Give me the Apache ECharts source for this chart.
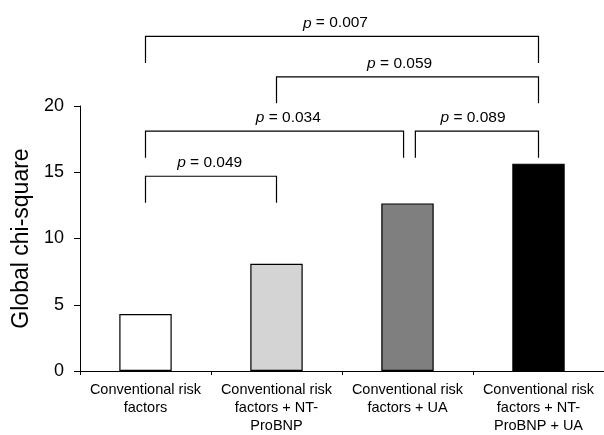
<!DOCTYPE html>
<html>
<head>
<meta charset="utf-8">
<script src="https://cdn.jsdelivr.net/npm/echarts@6/dist/echarts.min.js"></script>
<style>
  html, body { margin: 0; padding: 0; background: #fff; }
  #chart { width: 604px; height: 435px; }
</style>
</head>
<body>
<div id="chart"></div>
<script>
// categories and values
const categories = [
  'Conventional risk\nfactors',
  'Conventional risk\nfactors + NT-\nProBNP',
  'Conventional risk\nfactors + UA',
  'Conventional risk\nfactors + NT-\nProBNP + UA'
]
const chiSquare = [4.3, 8.1, 12.65, 15.65]
const barColors = ['#ffffff', '#d4d4d4', '#7f7f7f', '#000000']

// comparison brackets (category positions, y levels in chi-square units)
const bracketFrom = [0, 1, 0, 2.06, 0]
const bracketTo = [3, 3, 1.97, 3, 1]
const bracketTop = [25.25, 22.2, 18.1, 18.1, 14.7]
const bracketBottom = [23.25, 20.2, 16.1, 16.1, 12.7]
const pValues = ['0.007', '0.059', '0.034', '0.089', '0.049']
const pLabelAt = [1.45, 1.94, 1.09, 2.5, 0.49]

const yTicks = { min: 0, max: 20, interval: 5 }

const FONT = 'Liberation Sans, Arial, sans-serif'

const chart = echarts.init(document.getElementById('chart'))

// category value (may be fractional) -> pixel x
function catX (api, v) {
  const base = Math.floor(v)
  const band = api.size([1, 0])[0]
  return api.coord([base, 0])[0] + (v - base) * band
}

const option = {
  animation: false,
  grid: { left: 80, right: -1, top: 106, bottom: 63 },
  xAxis: {
    type: 'category',
    data: categories,
    axisLine: { lineStyle: { color: '#000', width: 1 } },
    axisTick: { show: true, length: 4, lineStyle: { color: '#000' } },
    axisLabel: {
      interval: 0,
      color: '#000',
      fontFamily: FONT,
      fontSize: 14.5,
      lineHeight: 18,
      margin: 10
    }
  },
  yAxis: {
    type: 'value',
    min: yTicks.min,
    max: yTicks.max,
    interval: yTicks.interval,
    name: 'Global chi-square',
    nameLocation: 'middle',
    nameGap: 46,
    nameTextStyle: { color: '#000', fontFamily: FONT, fontSize: 23 },
    axisLine: { show: true, lineStyle: { color: '#000', width: 1 } },
    axisTick: { show: true, length: 6, lineStyle: { color: '#000' } },
    splitLine: { show: false },
    axisLabel: { color: '#000', fontFamily: FONT, fontSize: 18, margin: 16 }
  },
  series: [
    {
      type: 'bar',
      barWidth: '40%',
      data: chiSquare.map((v, i) => ({
        value: v,
        itemStyle: { color: barColors[i], borderColor: '#000', borderWidth: 1.2 }
      }))
    },
    {
      type: 'custom',
      clip: false,
      silent: true,
      data: pValues.map((p, i) => [i]),
      renderItem: (params, api) => {
        const i = params.dataIndex
        const x1 = catX(api, bracketFrom[i])
        const x2 = catX(api, bracketTo[i])
        const yTop = api.coord([0, bracketTop[i]])[1]
        const yBot = api.coord([0, bracketBottom[i]])[1]
        const lx = catX(api, pLabelAt[i])
        const ly = api.coord([0, bracketTop[i] + 1])[1]
        return {
          type: 'group',
          children: [
            {
              type: 'polyline',
              shape: { points: [[x1, yBot], [x1, yTop], [x2, yTop], [x2, yBot]] },
              style: { stroke: '#000', lineWidth: 1.2, fill: null }
            },
            {
              type: 'text',
              x: lx,
              y: ly,
              style: {
                text: '{i|p} = ' + pValues[i],
                rich: { i: { fontStyle: 'italic', fontFamily: FONT, fontSize: 15.5, fill: '#000' } },
                fontFamily: FONT,
                fontSize: 15.5,
                fill: '#000',
                align: 'center',
                verticalAlign: 'middle'
              }
            }
          ]
        }
      }
    }
  ]
}

chart.setOption(option)
</script>
</body>
</html>
